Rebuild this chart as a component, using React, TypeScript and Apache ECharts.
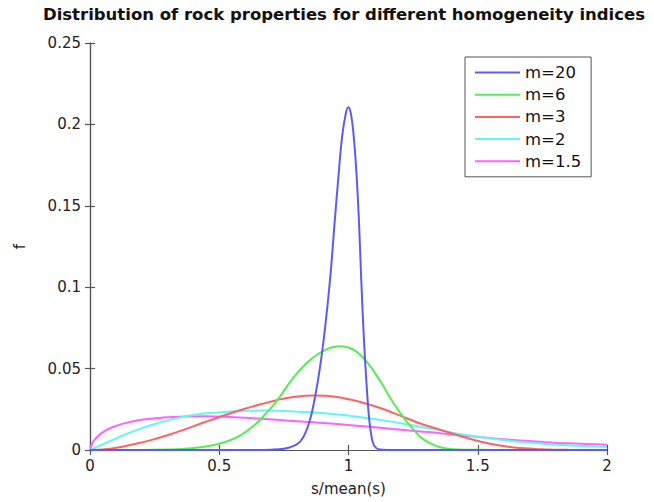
import React, { useEffect, useRef } from "react";
import * as echarts from "echarts";

const xTicks = [0, 0.5, 1, 1.5, 2];
const yTicks = [0, 0.05, 0.1, 0.15, 0.2, 0.25];
const seriesNames = ["m=20", "m=6", "m=3", "m=2", "m=1.5"];
const seriesColors = ["#5c5cf2", "#55ec55", "#ff6262", "#62f6f6", "#ff62ff"];

const m20: number[][] = [
  [0, 0], [0.3, 0], [0.6, 0], [0.7, 0.0002], [0.75, 0.0008], [0.8, 0.0035], [0.825, 0.0078],
  [0.85, 0.018], [0.87, 0.032], [0.89, 0.051], [0.91, 0.076], [0.93, 0.107],
  [0.945, 0.137], [0.96, 0.166], [0.975, 0.192], [0.99, 0.207], [1.0, 0.2105],
  [1.01, 0.206], [1.02, 0.193], [1.03, 0.172], [1.04, 0.142], [1.05, 0.102],
  [1.06, 0.067], [1.07, 0.04], [1.08, 0.019], [1.09, 0.0075], [1.1, 0.0025],
  [1.12, 0.0003], [1.15, 0], [1.2, 0], [1.4, 0], [1.7, 0], [2, 0],
];

const m6: number[][] = [
  [0, 0], [0.1, 0], [0.2, 0], [0.303, 0.0003], [0.393, 0.0011], [0.471, 0.0028],
  [0.535, 0.0055], [0.587, 0.0095], [0.638, 0.0155], [0.677, 0.0218],
  [0.722, 0.0300], [0.787, 0.0445], [0.851, 0.0553], [0.916, 0.0620],
  [0.967, 0.0638], [1.019, 0.0616], [1.07, 0.0543], [1.122, 0.0425],
  [1.173, 0.029], [1.225, 0.0175], [1.277, 0.0082], [1.315, 0.0042],
  [1.354, 0.0017], [1.405, 0.0005], [1.5, 0.0001], [1.6, 0], [1.8, 0], [2, 0],
];

const m3: number[][] = [
  [0, 0], [0.058, 0.0004], [0.11, 0.0016], [0.174, 0.0037], [0.239, 0.0062],
  [0.303, 0.0092], [0.367, 0.0127], [0.432, 0.0164], [0.496, 0.0200],
  [0.561, 0.0235], [0.625, 0.0265], [0.677, 0.0288], [0.722, 0.0306],
  [0.787, 0.0325], [0.864, 0.0335], [0.941, 0.0329], [1.019, 0.0305],
  [1.07, 0.0284], [1.122, 0.0258], [1.173, 0.0228], [1.225, 0.0195],
  [1.277, 0.0163], [1.354, 0.0125], [1.431, 0.0086], [1.509, 0.0052],
  [1.586, 0.0027], [1.663, 0.0012], [1.741, 0.0005], [1.85, 0.0001], [2, 0],
];

const m2: number[][] = [
  [0, 0], [0.045, 0.0031], [0.11, 0.0078], [0.174, 0.0119], [0.239, 0.0154],
  [0.316, 0.0188], [0.393, 0.0213], [0.471, 0.0228], [0.548, 0.0237],
  [0.62, 0.0241], [0.677, 0.0242], [0.75, 0.024], [0.812, 0.0235],
  [0.916, 0.0224], [1.019, 0.0208], [1.122, 0.0185], [1.225, 0.0158],
  [1.277, 0.0143], [1.354, 0.0121], [1.431, 0.0098], [1.535, 0.0073],
  [1.638, 0.0054], [1.741, 0.004], [1.844, 0.0029], [2, 0.0019],
];

const m15: number[][] = [
  [0, 0], [0.01, 0.0045], [0.025, 0.0075], [0.045, 0.0105], [0.084, 0.0138],
  [0.135, 0.0165], [0.2, 0.0186], [0.28, 0.0199], [0.37, 0.0206], [0.45, 0.0207],
  [0.52, 0.0204], [0.6, 0.0198], [0.677, 0.019], [0.761, 0.0181], [0.864, 0.0170],
  [0.967, 0.0158], [1.07, 0.0144], [1.173, 0.0129], [1.277, 0.0114],
  [1.354, 0.0103], [1.431, 0.0090], [1.535, 0.0075], [1.638, 0.0061],
  [1.741, 0.005], [1.844, 0.0041], [2, 0.0033],
];

const allData = [m20, m6, m3, m2, m15];

const FONT = "DejaVu Sans";

export default function App() {
  const ref = useRef<HTMLDivElement>(null);
  useEffect(() => {
    document.body.style.margin = "0";
    if (!ref.current) return;
    const chart = echarts.init(ref.current, undefined, { renderer: "svg" });
    const axisLine = { show: true, lineStyle: { color: "#555", width: 1.2 } };
    const mkTick = () => ({ show: true, inside: true, length: 5, lineStyle: { color: "#555", width: 1.2 } });
    chart.setOption({
      animation: false,
      backgroundColor: "#fff",
      grid: { left: 90, right: 47, top: 43, bottom: 52, containLabel: false },
      graphic: [
        {
          type: "text",
          x: 344,
          y: 6,
          style: {
            text: "Distribution of rock properties for different homogeneity indices",
            font: `bold 16.5px "${FONT}"`,
            fill: "#111",
            textAlign: "center",
          },
        },
      ],
      legend: {
        orient: "vertical",
        left: 465,
        top: 57,
        padding: [7, 10, 7, 10],
        itemWidth: 45,
        itemHeight: 2,
        icon: "rect",
        itemGap: 5.2,
        borderColor: "#555",
        borderWidth: 1,
        backgroundColor: "#fff",
        textStyle: { fontSize: 16.5, fontFamily: FONT, color: "#111" },
        data: seriesNames,
      },
      xAxis: [
        {
          type: "value",
          min: xTicks[0],
          max: xTicks[xTicks.length - 1],
          interval: 0.5,
          position: "bottom",
          name: "s/mean(s)",
          nameLocation: "middle",
          nameGap: 31,
          nameTextStyle: { fontSize: 15, fontFamily: FONT, color: "#222" },
          axisLine,
          axisTick: mkTick(),
          splitLine: { show: false },
          axisLabel: { fontSize: 15, fontFamily: FONT, color: "#222", margin: 8 },
        },
        {
          type: "value",
          min: xTicks[0],
          max: xTicks[xTicks.length - 1],
          interval: 0.5,
          position: "top",
          axisLine,
          axisTick: mkTick(),
          splitLine: { show: false },
          axisLabel: { show: false },
        },
      ],
      yAxis: [
        {
          type: "value",
          min: yTicks[0],
          max: yTicks[yTicks.length - 1],
          interval: 0.05,
          position: "left",
          name: "f",
          nameLocation: "middle",
          nameGap: 63,
          nameRotate: 90,
          nameTextStyle: { fontSize: 15, fontFamily: FONT, color: "#222" },
          axisLine,
          axisTick: mkTick(),
          splitLine: { show: false },
          axisLabel: { fontSize: 15, fontFamily: FONT, color: "#222", margin: 9 },
        },
        {
          type: "value",
          min: yTicks[0],
          max: yTicks[yTicks.length - 1],
          interval: 0.05,
          position: "right",
          axisLine,
          axisTick: mkTick(),
          splitLine: { show: false },
          axisLabel: { show: false },
        },
      ],
      series: seriesNames.map((name, i) => ({
        name,
        type: "line",
        xAxisIndex: 0,
        yAxisIndex: 0,
        data: allData[i],
        symbol: "none",
        smooth: 0.4,
        color: seriesColors[i],
        lineStyle: { color: seriesColors[i], width: 2 },
        z: 10 - i,
      })),
    });
    return () => chart.dispose();
  }, []);
  return <div ref={ref} style={{ width: 654, height: 502 }} />;
}
